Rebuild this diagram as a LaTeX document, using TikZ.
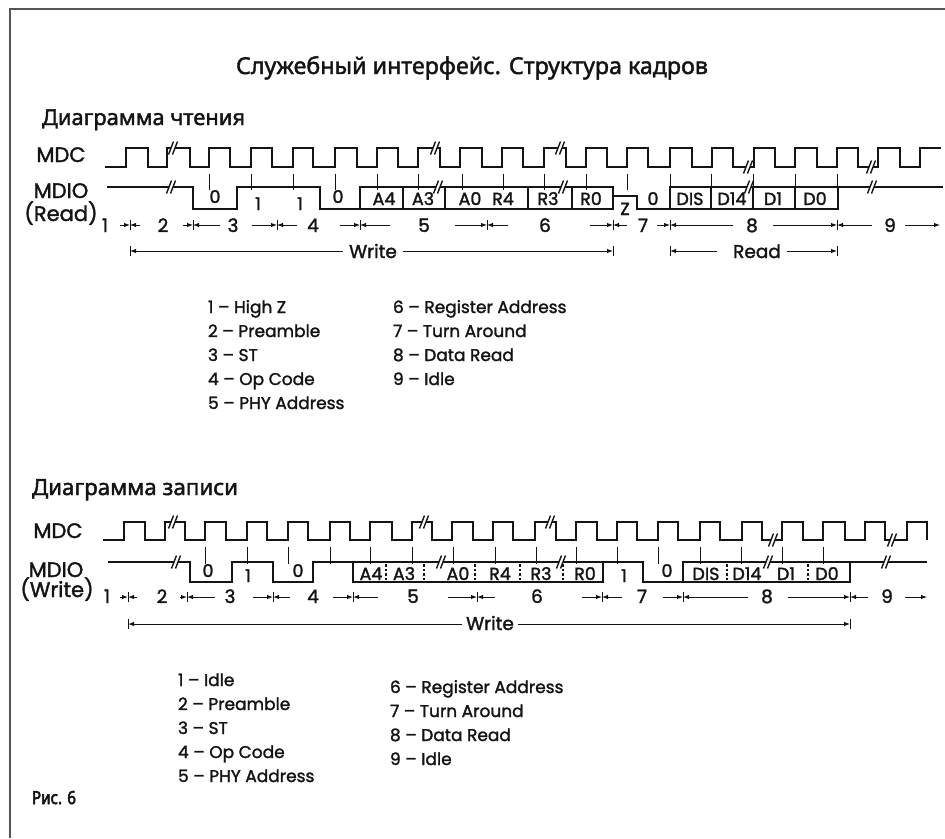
\documentclass[tikz,border=0pt]{standalone}
\usepackage{graphicx}
\usepackage{fontspec}
\setmainfont{Poppins}[FakeBold=1.6]
\newfontfamily\cyr{Noto Sans}[FakeBold=1.8]
\newfontfamily\cyrb{Noto Sans}[FakeBold=3.5]
\usetikzlibrary{arrows.meta}
\definecolor{frm}{RGB}{85,85,85}
\definecolor{ink}{RGB}{20,20,20}
\newcommand\brkmark[2]{%
  \fill[white] (#1-4.5,#2+6.5) -- (#1+0.5,#2-6.5) -- (#1+4.5,#2-6.5) -- (#1-0.5,#2+6.5) -- cycle;
  \draw[ink,line width=1.4pt] (#1-4.5,#2+6.5) -- (#1+0.5,#2-6.5) (#1-0.5,#2+6.5) -- (#1+4.5,#2-6.5);}
\newcommand\dimbar[2]{\draw[ink,line width=1pt] (#1,#2-5) -- (#1,#2+5);}
\begin{document}
\begin{tikzpicture}[x=1pt,y=-1pt,
  wave/.style={ink,line width=2.3pt,line join=miter},
  tickmark/.style={ink,line width=1pt},
  dim/.style={ink,line width=1pt,-{Latex[length=6pt,width=4.5pt]}},
  dsh/.style={ink,line width=1.5pt,dash pattern=on 2.5pt off 2pt},
  txt/.style={inner sep=0pt,outer sep=0pt,anchor=base,text=ink},
  sig/.style={txt,font=\fontsize{21}{21}\selectfont},
  bit/.style={txt,font=\fontsize{17.5}{17.5}\selectfont},
  num/.style={txt,font=\fontsize{18.5}{18.5}\selectfont},
  leg/.style={txt,anchor=base west,font=\fontsize{17}{17}\selectfont}]
\useasboundingbox (0,0) rectangle (945,838);
\fill[white] (0,0) rectangle (945,838);
% frame
\draw[frm,line width=1.3pt] (10,838) -- (10,9) -- (945,9);

% headings
\node[txt,anchor=base west] (title) at (236,74) {\resizebox{472pt}{!}{\cyr Служебный интерфейс. Структура кадров}};
\node[txt,anchor=base west] (hread) at (42,125) {\resizebox{203pt}{!}{\cyr Диаграмма чтения}};
\node[txt,anchor=base west] (hwrite) at (32,495) {\resizebox{206pt}{!}{\cyr Диаграмма записи}};
\node[txt,anchor=base west] (fig) at (32,804) {\resizebox{44pt}{13pt}{\cyrb Рис. 6}};

%================ READ DIAGRAM =================
\node[sig] (mdc1) at (61,162) {MDC};
\node[sig] (mdio1) at (61,198) {MDIO};
\node[sig] (rd1) at (61,221) {(Read)};

\draw[wave] (105,167) -| (126,148) -| (148,167) -| (167,148) -| (190,167) -| (209,148) -| (230,167) -| (251,148) -| (272,167) -| (293,148) -| (313,167) -| (335,148) -| (357,167) -| (377,148) -| (398,167) -| (418,148) -| (440,167) -| (460,148) -| (482,167) -| (502,148) -| (523,167) -| (544,148) -| (566,167) -| (586,148) -| (607,167) -| (627,148) -| (648,167) -| (670,148) -| (692,167) -| (712,148) -| (733,167) -| (754,148) -| (775,167) -| (795,148) -| (817,167) -| (837,148) -| (858,167) -| (878,148) -| (900,167) -| (920,148) -- (941,148);

\draw[wave] (107,187) -- (193,187) -- (193,209) -| (237,187) -| (320,209) -- (360,209);
\draw[wave] (360,187) rectangle (613,209);
\draw[wave] (613,196) -- (637,196) -- (637,209) -- (670,209);
\draw[wave] (670,187) rectangle (838,209);
\draw[wave] (838,187) -- (943,187);

\brkmark{173}{148}
\brkmark{435}{148}
\brkmark{560}{148}
\brkmark{748}{167}
\brkmark{871}{167}
\brkmark{171}{187}
\brkmark{438}{187}
\brkmark{563}{187}
\brkmark{749}{187}
\brkmark{872}{187}

\foreach \x in {403,445,528,572,711,753,795} \draw[wave] (\x,187) -- (\x,209);
\foreach \x in {209,251,293,335,377,418,462,503,544,586,627,670,711,753,795,837} \draw[tickmark] (\x,174) -- (\x,190);

\node[bit] (r0a) at (215,203) {0};
\node[bit] (r1a) at (258,210) {1};
\node[bit] (r1b) at (300,210) {1};
\node[bit] (r0b) at (338,203) {0};
\node[bit] (ra4) at (384,205) {A4};
\node[bit] (ra3) at (423,205) {A3};
\node[bit] (ra0) at (470,205) {A0};
\node[bit] (rr4) at (503,205) {R4};
\node[bit] (rr3) at (548,205) {R3};
\node[bit] (rr0) at (591,205) {R0};
\node[bit] (rz) at (625,215) {Z};
\node[bit] (r0c) at (653,205) {0};
\node[bit] (rdis) at (690,205) {DIS};
\node[bit] (rd14) at (732,205) {D14};
\node[bit] (rd1) at (773,205) {D1};
\node[bit] (rd0) at (815,205) {D0};

% section row
\node[num] (rn1) at (105,232) {1};
\node[num] (rn2) at (163,232) {2};
\node[num] (rn3) at (233,232) {3};
\node[num] (rn4) at (313,232) {4};
\node[num] (rn5) at (424,232) {5};
\node[num] (rn6) at (545,232) {6};
\node[num] (rn7) at (643,232) {7};
\node[num] (rn8) at (752,232) {8};
\node[num] (rn9) at (890,232) {9};
\foreach \b/\l/\r in {130/120/140, 193/183/220, 277/252/297, 360/340/390, 487/455/508, 613/590/627, 670/657/733, 837/773/872} {
  \dimbar{\b}{225}
  \draw[dim] (\l,225) -- (\b,225);
  \draw[dim] (\r,225) -- (\b,225);
}
\draw[dim] (905,225) -- (940,225);

\node[num] (rwr) at (373,258) {Write};
\node[num] (rrd) at (757,258) {Read};
\dimbar{130}{251}
\dimbar{613}{251}
\dimbar{670}{251}
\dimbar{837}{251}
\draw[dim] (343,251) -- (130,251);
\draw[dim] (403,251) -- (613,251);
\draw[dim] (717,251) -- (670,251);
\draw[dim] (787,251) -- (837,251);

% legend
\node[leg] (rl1) at (208,313) {1 – High Z};
\node[leg] (rl2) at (208,337) {2 – Preamble};
\node[leg] (rl3) at (208,361) {3 – ST};
\node[leg] (rl4) at (208,385) {4 – Op Code};
\node[leg] (rl5) at (208,409) {5 – PHY Address};
\node[leg] (rl6) at (393,313) {6 – Register Address};
\node[leg] (rl7) at (393,337) {7 – Turn Around};
\node[leg] (rl8) at (393,361) {8 – Data Read};
\node[leg] (rl9) at (393,385) {9 – Idle};

%================ WRITE DIAGRAM =================
\node[sig] (mdc2) at (58,538) {MDC};
\node[sig] (mdio2) at (56,577) {MDIO};
\node[sig] (wr2) at (57,597) {(Write)};

\draw[wave] (103,540) -| (124,522) -| (145,540) -| (165,522) -| (185,540) -| (205,522) -| (226,540) -| (247,522) -| (267,540) -| (288,522) -| (308,540) -| (330,522) -| (350,540) -| (370,522) -| (392,540) -| (412,522) -| (432,540) -| (452,522) -| (473,540) -| (493,522) -| (513,540) -| (535,522) -| (556,540) -| (576,522) -| (597,540) -| (617,522) -| (637,540) -| (658,522) -| (678,540) -| (700,522) -| (720,540) -| (742,522) -| (762,540) -| (782,522) -| (803,540) -| (823,522) -| (845,540) -| (865,522) -| (885,540) -| (907,522) -| (927,540);

\draw[wave] (108,562) -- (190,562) -- (190,582) -| (232,562) -| (273,582) -| (313,562) -- (353,562);
\draw[wave] (353,562) rectangle (603,582);
\draw[wave] (603,562) -- (643,562) -- (643,582) -- (683,582);
\draw[wave] (683,562) rectangle (850,582);
\draw[wave] (850,562) -- (927,562);

\brkmark{173}{522}
\brkmark{424}{522}
\brkmark{550}{522}
\brkmark{773}{540}
\brkmark{892}{540}
\brkmark{176}{562}
\brkmark{441}{562}
\brkmark{561}{562}
\brkmark{768}{562}
\brkmark{886}{562}

\foreach \x in {386,424,475,520,563,727,808} \draw[dsh] (\x,564) -- (\x,580);
\foreach \x in {205,247,288,330,370,412,453,495,536,576,617,658,700,741,782,823} \draw[tickmark] (\x,547) -- (\x,564);

\node[bit] (w0a) at (208,577) {0};
\node[bit] (w1a) at (248,582) {1};
\node[bit] (w0b) at (298,577) {0};
\node[bit] (wa4) at (371,580) {A4};
\node[bit] (wa3) at (404,580) {A3};
\node[bit] (wa0) at (458,580) {A0};
\node[bit] (wr4) at (500,580) {R4};
\node[bit] (wr3) at (541,580) {R3};
\node[bit] (wr0) at (585,580) {R0};
\node[bit] (w1b) at (624,582) {1};
\node[bit] (w0c) at (667,577) {0};
\node[bit] (wdis) at (706,580) {DIS};
\node[bit] (wd14) at (747,580) {D14};
\node[bit] (wd1) at (786,580) {D1};
\node[bit] (wd0) at (827,580) {D0};

\node[num] (wn1) at (107,603) {1};
\node[num] (wn2) at (162,603) {2};
\node[num] (wn3) at (230,603) {3};
\node[num] (wn4) at (313,603) {4};
\node[num] (wn5) at (413,603) {5};
\node[num] (wn6) at (537,603) {6};
\node[num] (wn7) at (642,603) {7};
\node[num] (wn8) at (767,603) {8};
\node[num] (wn9) at (887,603) {9};
\foreach \b/\l/\r in {128/120/137, 187/180/215, 273/253/290, 353/333/378, 477/448/495, 602/582/622, 683/663/748, 850/788/868} {
  \dimbar{\b}{597}
  \draw[dim] (\l,597) -- (\b,597);
  \draw[dim] (\r,597) -- (\b,597);
}
\draw[dim] (905,597) -- (927,597);

\node[num] (wwr) at (490,630) {Write};
\dimbar{128}{624}
\dimbar{850}{624}
\draw[dim] (462,624) -- (128,624);
\draw[dim] (518,624) -- (850,624);

\node[leg] (wl1) at (178,686) {1 – Idle};
\node[leg] (wl2) at (178,710) {2 – Preamble};
\node[leg] (wl3) at (178,734) {3 – ST};
\node[leg] (wl4) at (178,758) {4 – Op Code};
\node[leg] (wl5) at (178,782) {5 – PHY Address};
\node[leg] (wl6) at (390,693) {6 – Register Address};
\node[leg] (wl7) at (390,717) {7 – Turn Around};
\node[leg] (wl8) at (390,741) {8 – Data Read};
\node[leg] (wl9) at (390,765) {9 – Idle};
\end{tikzpicture}
\end{document}
